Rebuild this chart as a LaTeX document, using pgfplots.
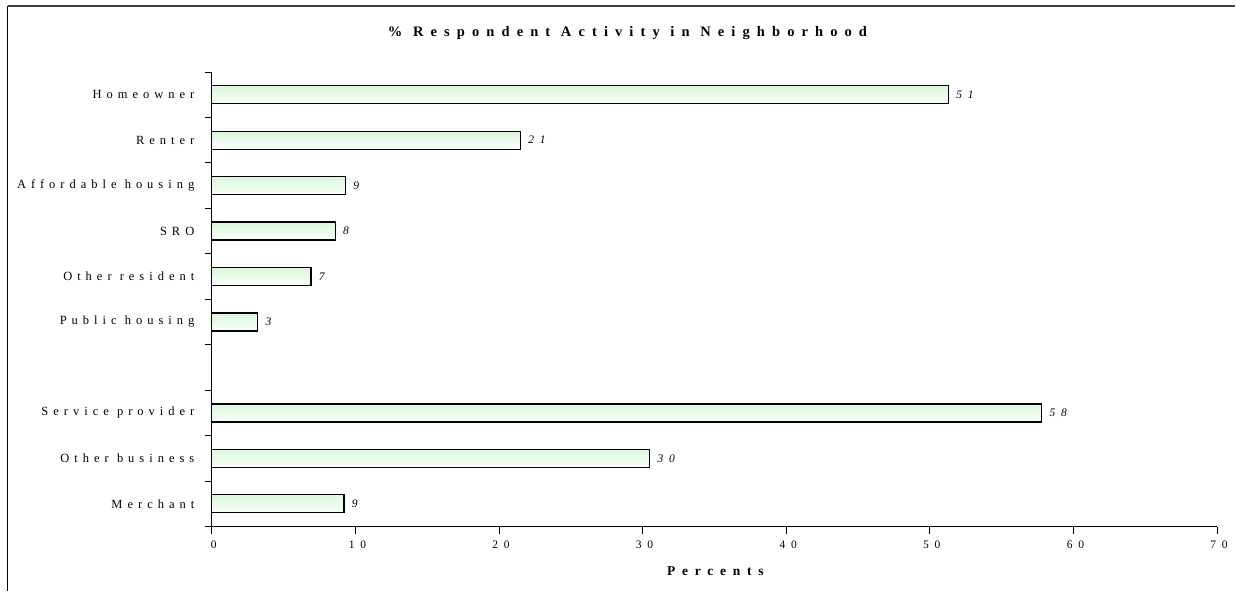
\documentclass[border=0pt]{standalone}
\usepackage{fontspec}
\setmainfont{Liberation Serif}
\newfontfamily\spc[LetterSpace=40]{Liberation Serif}
\newfontfamily\spt[LetterSpace=49]{Liberation Serif}
\newfontfamily\spx[LetterSpace=50]{Liberation Serif}
\usepackage{pgfplots}
\pgfplotsset{compat=1.18}
\definecolor{bartop}{RGB}{220,246,220}
\definecolor{barmid}{RGB}{190,252,190}
\definecolor{barbot}{RGB}{250,255,250}
\pgfplotsset{mybar/.style={xbar, bar width=18pt, bar shift=0pt, draw=black, line width=1.2pt,
  top color=bartop, middle color=barmid, bottom color=barbot,
  nodes near coords, point meta=explicit symbolic,
  nodes near coords style={font=\spx\itshape\fontsize{11.5}{13}\selectfont, anchor=west, xshift=4pt, black}}}
\begin{document}
\begin{tikzpicture}
\path (0,0) rectangle (1236pt,591pt);
\draw[line width=1pt] (8pt,0) -- (8pt,585pt);
\draw[line width=2pt, black!75] (8pt,585pt) -- (1236pt,585pt);
\node[font=\spt\fontsize{14.5}{17}\selectfont\bfseries] at (628pt,558pt) {\% Respondent Activity in Neighborhood};
\node[font=\spx\fontsize{13.5}{16}\selectfont\bfseries] at (716pt,19pt) {Percents};
\begin{axis}[
 at={(212pt,64pt)}, anchor=south west,
 scale only axis, width=1006pt, height=455pt,
 xmin=0, xmax=70, ymin=0.5, ymax=10.5,
 axis x line*=bottom, axis y line*=left,
 axis line style={-, line width=0.8pt, black},
 xtick={0,10,...,70}, xticklabels={0,10,20,30,40,50,60,70},
 xticklabel style={font=\spx\fontsize{11.5}{13}\selectfont, yshift=-4pt, xshift=2pt},
 ytick={0.5,1.5,...,10.5}, yticklabels={},
 extra y ticks={1,2,3,4,5,6,7,8,9,10},
 extra y tick labels={Merchant,Other business,Service provider,,Public housing,Other resident,SRO,Affordable housing,Renter,Homeowner},
 extra y tick style={major tick length=0pt, yticklabel style={font=\spc\fontsize{12.5}{14}\selectfont, anchor=east, xshift=-14pt}},
 tick align=outside, major tick length=7pt,
 tick style={line width=0.8pt, black},
 clip=false,
]
\addplot[mybar] coordinates {(9.2,1) [9]};
\addplot[mybar] coordinates {(30.5,2) [30]};
\addplot[mybar] coordinates {(57.8,3) [58]};
\addplot[mybar] coordinates {(3.2,5) [3]};
\addplot[mybar] coordinates {(6.9,6) [7]};
\addplot[mybar] coordinates {(8.6,7) [8]};
\addplot[mybar] coordinates {(9.3,8) [9]};
\addplot[mybar] coordinates {(21.5,9) [21]};
\addplot[mybar] coordinates {(51.3,10) [51]};
\end{axis}
\end{tikzpicture}
\end{document}
